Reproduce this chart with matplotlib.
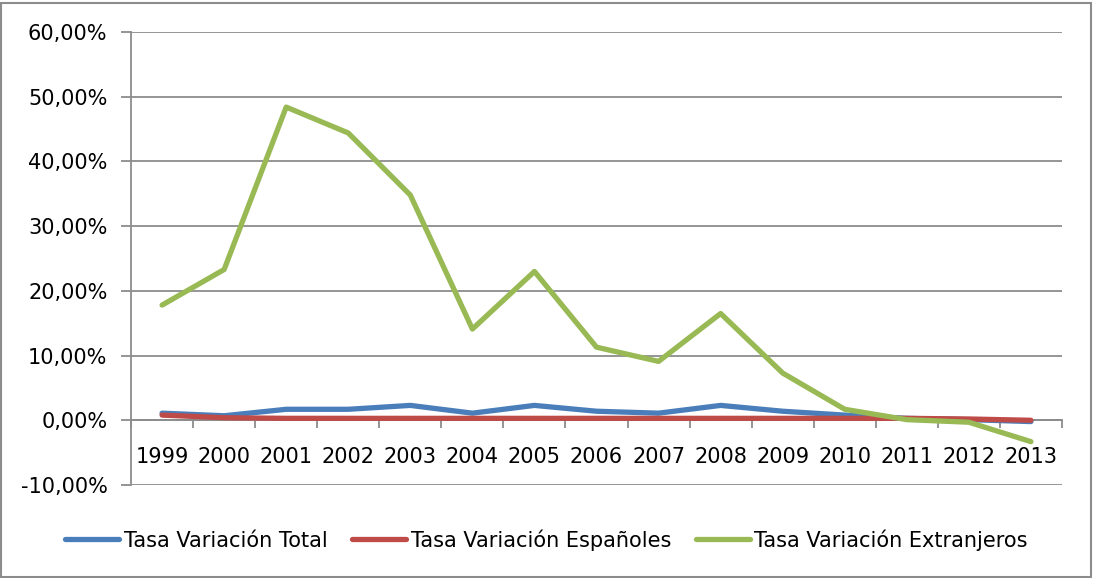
import numpy as np
import matplotlib.pyplot as plt
from matplotlib.patches import Rectangle
from matplotlib.ticker import FuncFormatter, FixedLocator

plt.rcParams['font.family'] = ['DejaVu Sans']

years = ['1999', '2000', '2001', '2002', '2003', '2004', '2005', '2006',
         '2007', '2008', '2009', '2010', '2011', '2012', '2013']
total = [1.1, 0.7, 1.7, 1.7, 2.3, 1.1, 2.3, 1.4, 1.1, 2.3, 1.4, 0.8, 0.3, 0.1, -0.2]
espanoles = [0.8, 0.4, 0.3, 0.3, 0.3, 0.3, 0.3, 0.3, 0.3, 0.3, 0.3, 0.3, 0.3, 0.2, 0.0]
extranjeros = [17.8, 23.3, 48.4, 44.4, 34.8, 14.1, 23.0, 11.3, 9.1, 16.5, 7.3, 1.7, 0.1, -0.3, -3.3]

series = [
    ('Tasa Variación Total', total, '#4a7ebb'),
    ('Tasa Variación Españoles', espanoles, '#be4b48'),
    ('Tasa Variación Extranjeros', extranjeros, '#98b954'),
]

grid_col = '#8c8c8c'

fig = plt.figure(figsize=(10.93, 5.78), dpi=100)
ax = fig.add_axes([0.1199, 0.1609, 0.8517, 0.7837])

x = np.arange(len(years))
for name, vals, col in series:
    ax.plot(x, vals, color=col, lw=3.8, solid_capstyle='round',
            solid_joinstyle='round', label=name, zorder=3)

ax.set_ylim(-10, 60)
ax.set_xlim(-0.5, len(years) - 0.5)
ax.set_yticks(np.arange(-10, 61, 10))
ax.yaxis.set_major_formatter(FuncFormatter(lambda v, p: f'{v:.2f}%'.replace('.', ',')))
ax.grid(axis='y', color=grid_col, lw=1.3)
ax.set_axisbelow(True)

for s in ['top', 'right']:
    ax.spines[s].set_visible(False)
ax.spines['left'].set_color(grid_col)
ax.spines['left'].set_linewidth(1.3)
ax.spines['bottom'].set_position(('data', 0))
ax.spines['bottom'].set_color(grid_col)
ax.spines['bottom'].set_linewidth(1.3)
ax.spines['bottom'].set_zorder(2)

# category labels sit under the zero line, ticks mark the category boundaries
ax.set_xticks(x)
ax.set_xticklabels(years)
ax.xaxis.set_minor_locator(FixedLocator(np.arange(-0.5, len(years), 1)))
ax.tick_params(axis='x', which='major', length=0, pad=19, labelsize=15)
ax.tick_params(axis='x', which='minor', length=6, width=1.3, color=grid_col, direction='out')
ax.tick_params(axis='y', length=7, width=1.3, color=grid_col, pad=10, labelsize=15)

fig.legend(loc='center', bbox_to_anchor=(0.5, 0.066), ncol=3, frameon=False,
           fontsize=15, handlelength=2.6, handletextpad=0.2, columnspacing=1.2)

fig.patches.append(Rectangle((0.001, 0.002), 0.997, 0.992, transform=fig.transFigure,
                             fill=False, edgecolor='#8c8c8c', lw=1.5))

fig.savefig('out.png', dpi=100)
